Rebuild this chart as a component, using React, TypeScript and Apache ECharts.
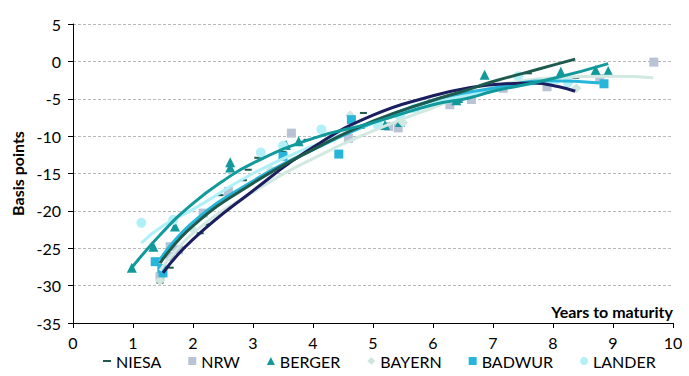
import React, { useEffect, useRef } from "react";
import * as echarts from "echarts";

const yTicks = [5, 0, -5, -10, -15, -20, -25, -30, -35];
const xTicks = [0, 1, 2, 3, 4, 5, 6, 7, 8, 9, 10];

const legendNames = ["NIESA", "NRW", "BERGER", "BAYERN", "BADWUR", "LANDER"];

const niesaPts = [[1.45,-29.6],[1.62,-27.6],[2.12,-23],[2.23,-21.8],[2.45,-17.9],[2.84,-15.9],[2.92,-14.5],[3.08,-12.9],[3.5,-12.1],[3.9,-10.5],[4.8,-8.9],[4.84,-6.9],[7.59,-1.6],[8.38,-2.2]];
const nrwPts = [[1.45,-28.8],[1.62,-26.1],[1.76,-25.2],[1.62,-24.8],[2.17,-20.3],[2.59,-17.4],[3.64,-9.6],[4.59,-10.3],[5.26,-8.7],[5.42,-8.9],[6.28,-5.8],[6.64,-5.1],[7.17,-3.6],[7.9,-3.4],[8.78,-2.3],[9.68,-0.1]];
const bergerPts = [[0.98,-27.6],[1.34,-24.8],[1.7,-22.1],[2.62,-13.5],[2.62,-14.2],[3.55,-11.2],[3.76,-10.7],[5.2,-8.5],[5.45,-8.1],[6.39,-5.2],[6.42,-4.9],[6.86,-1.8],[8.13,-1.4],[8.71,-1.15],[8.92,-1.3]];
const bayernPts = [[1.45,-29.3],[2.0,-22.5],[3.3,-14.5],[4.62,-7.2],[5.5,-8.2],[8.39,-3.6]];
const badwurPts = [[1.37,-26.8],[1.48,-27.7],[1.5,-28.3],[3.5,-12.7],[4.43,-12.4],[4.64,-7.8],[8.85,-3.0]];
const landerPts = [[1.14,-21.6],[1.67,-21.2],[3.13,-12.2],[3.5,-11.3],[4.14,-9.1],[5.08,-8.5],[5.45,-7.3],[5.7,-6.3],[7.42,-2.0],[8.25,-2.8]];

const niesaTrend = [[1.45,-27],[2,-22],[3,-16.3],[4,-11.8],[5,-8],[6,-5.2],[6.5,-4],[7,-2.7],[7.5,-1.6],[8,-0.5],[8.37,0.3]];
const navyTrend = [[1.5,-28.3],[2,-23.8],[3,-17.3],[4,-11.5],[5,-7.2],[6,-4.6],[6.56,-3.6],[7.2,-3.0],[7.67,-2.9],[8.1,-3.4],[8.37,-4.0]];
const bergerTrend = [[0.98,-27.6],[1.5,-22.8],[2,-19],[2.5,-16],[3,-13.6],[4,-10.3],[5,-8.2],[6,-5.8],[6.6,-4.9],[7,-4],[8,-2.3],[8.92,-0.3]];
const mintTrend = [[1.45,-28],[2,-23],[3,-17.5],[4,-13],[5,-9.3],[6,-6.2],[7,-3.4],[7.5,-2.6],[8,-2.2],[9,-2.0],[9.67,-2.2]];
const badwurTrend = [[1.45,-26.5],[2,-21.5],[3,-16],[4,-11.8],[5,-8.2],[6,-5.2],[7,-3.6],[7.95,-2.6],[8.78,-2.9]];
const landerTrend = [[1.14,-24.3],[1.5,-22],[2,-19.8],[3,-15],[4,-11.3],[5,-8.3],[6,-5.6],[7,-3.8],[7.7,-3.0],[8.1,-2.8]];

const FONT = "Lato, 'Liberation Sans', sans-serif";
const DASH = "path://M0,0h8v2h-8z";

export default function App() {
  const ref = useRef<HTMLDivElement>(null);
  useEffect(() => {
    const chart = echarts.init(ref.current!, null, { renderer: "svg" });
    const trend = (data: number[][], color: string) => ({
      type: "line",
      data,
      smooth: true,
      showSymbol: false,
      symbol: "none",
      lineStyle: { color, width: 3 },
      z: 3,
      silent: true,
    });
    const scatter = (name: string, data: number[][], symbol: string, size: any, color: string) => ({
      type: "scatter",
      name,
      data,
      symbol,
      symbolSize: size,
      itemStyle: { color, opacity: 1 },
      z: 2,
    });
    const icons = [DASH, "rect", "triangle", "diamond", "rect", "circle"];
    chart.setOption({
      animation: false,
      backgroundColor: "#ffffff",
      textStyle: { fontFamily: FONT },
      grid: { left: 73, right: 16, top: 24, bottom: 53 },
      xAxis: {
        type: "value",
        min: xTicks[0],
        max: xTicks[xTicks.length - 1],
        interval: 1,
        name: "Years to maturity",
        nameLocation: "end",
        nameGap: 0,
        nameTextStyle: { fontWeight: "bold", fontSize: 16, color: "#000", align: "right", verticalAlign: "bottom", padding: [0, 0, 4, 0], fontFamily: FONT },
        axisLine: { show: true, onZero: false, lineStyle: { color: "#000", width: 1 } },
        axisTick: { show: true, length: 5, lineStyle: { color: "#000" } },
        axisLabel: { fontSize: 16, color: "#000", margin: 11, fontFamily: FONT, lineHeight: 16 },
        splitLine: { show: false },
      },
      yAxis: {
        type: "value",
        min: yTicks[yTicks.length - 1],
        max: yTicks[0],
        interval: 5,
        name: "Basis points",
        nameLocation: "middle",
        nameGap: 46,
        nameRotate: 90,
        nameTextStyle: { fontWeight: "bold", fontSize: 16, color: "#000", fontFamily: FONT },
        axisLine: { show: true, lineStyle: { color: "#000", width: 1 } },
        axisTick: { show: true, length: 5, lineStyle: { color: "#000" } },
        axisLabel: { fontSize: 16, color: "#000", margin: 12, fontFamily: FONT },
        splitLine: { show: true, lineStyle: { color: "#b8b8b8", type: [3, 2], width: 1 } },
      },
      legend: {
        data: legendNames.map((n, i) => ({ name: n, icon: icons[i] })),
        bottom: 2,
        left: 98,
        itemWidth: 8,
        itemHeight: 8,
        itemGap: 27,
        textStyle: { fontSize: 16, color: "#000", fontFamily: FONT, lineHeight: 16 },
      },
      series: [
        scatter("NIESA", niesaPts, DASH, [7, 2], "#1e5a4e"),
        scatter("NRW", nrwPts, "rect", 9, "#b8c3d5"),
        scatter("BERGER", bergerPts, "triangle", 10, "#11999b"),
        scatter("BAYERN", bayernPts, "diamond", 10, "#cfe7df"),
        scatter("BADWUR", badwurPts, "rect", 9, "#27b5d9"),
        scatter("LANDER", landerPts, "circle", 10, "#b2f0f8"),
        trend(mintTrend, "#d2e8e2"),
        trend(landerTrend, "#aef0f8"),
        trend(badwurTrend, "#27b5d9"),
        trend(navyTrend, "#1c1f5f"),
        trend(niesaTrend, "#1e5a4e"),
        trend(bergerTrend, "#11999b"),
      ],
    });
    return () => chart.dispose();
  }, []);
  return <div ref={ref} style={{ width: 689, height: 376, position: "absolute", left: 0, top: 0 }} />;
}
